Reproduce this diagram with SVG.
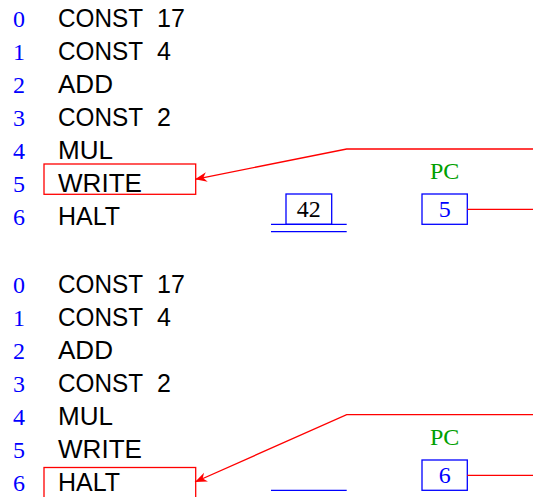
<svg xmlns="http://www.w3.org/2000/svg" width="533" height="497" viewBox="0 0 533 497">
<style>
.num{font-family:"Liberation Serif",serif;font-size:24px;fill:#0000ff}
.ins{font-family:"Liberation Sans",Arial,sans-serif;font-size:25px;fill:#000}
.red{fill:none;stroke:#ff0000;stroke-width:1.3}
.blue{fill:none;stroke:#0000ff;stroke-width:1.3}
.pc{font-family:"Liberation Serif",serif;font-size:24px;fill:#00a000;text-anchor:middle}
.val{font-family:"Liberation Serif",serif;font-size:24px;text-anchor:middle}
</style>
<defs>
<marker id="ah" viewBox="0 0 10 10" refX="10" refY="5" markerWidth="12" markerHeight="12" markerUnits="userSpaceOnUse" orient="auto">
<path d="M0,1 L10,5 L0,9 L3,5 z" fill="#ff0000"/>
</marker>
<g id="prog">
<text class="num" x="13" y="27">0</text>
<text class="num" x="13" y="60">1</text>
<text class="num" x="13" y="93">2</text>
<text class="num" x="13" y="126">3</text>
<text class="num" x="13" y="159">4</text>
<text class="num" x="13" y="192">5</text>
<text class="num" x="13" y="225">6</text>
<text class="ins" x="58" y="27"><tspan textLength="85" lengthAdjust="spacingAndGlyphs">CONST</tspan><tspan x="157">17</tspan></text>
<text class="ins" x="58" y="60"><tspan textLength="85" lengthAdjust="spacingAndGlyphs">CONST</tspan><tspan x="157">4</tspan></text>
<text class="ins" x="58" y="93" textLength="55" lengthAdjust="spacingAndGlyphs">ADD</text>
<text class="ins" x="58" y="126"><tspan textLength="85" lengthAdjust="spacingAndGlyphs">CONST</tspan><tspan x="157">2</tspan></text>
<text class="ins" x="58" y="159" textLength="55" lengthAdjust="spacingAndGlyphs">MUL</text>
<text class="ins" x="58" y="192" textLength="84" lengthAdjust="spacingAndGlyphs">WRITE</text>
<text class="ins" x="58" y="225" textLength="62" lengthAdjust="spacingAndGlyphs">HALT</text>
</g>
</defs>
<g id="state1">
<use id="program1" href="#prog"/>
<rect id="current1" class="red" x="44" y="164" width="151.7" height="30.3"/>
<g id="stack1">
<rect class="blue" x="286" y="194" width="45.7" height="30.3"/>
<text class="val" x="308.8" y="217" fill="#000">42</text>
<line class="blue" x1="271" y1="224.3" x2="346.7" y2="224.3"/>
<line class="blue" x1="271" y1="231.7" x2="346.7" y2="231.7"/>
</g>
<g id="pc1">
<text class="pc" x="444.7" y="179">PC</text>
<rect class="blue" x="422" y="194" width="45.3" height="30.3"/>
<text class="val" x="444.7" y="217" fill="#0000ff">5</text>
</g>
</g>
<g id="state2">
<use id="program2" href="#prog" y="266"/>
<rect id="current2" class="red" x="44" y="467.5" width="151.7" height="40"/>
<g id="stack2">
<line class="blue" x1="271" y1="490.3" x2="346.7" y2="490.3"/>
</g>
<g id="pc2">
<text class="pc" x="444.7" y="445">PC</text>
<rect class="blue" x="422" y="460" width="45.3" height="30.3"/>
<text class="val" x="444.7" y="483" fill="#0000ff">6</text>
</g>
</g>
<g id="connectors">
<line class="red" x1="467.3" y1="209.3" x2="533" y2="209.3"/>
<polyline class="red" points="533,149 346.7,149 195,179.3" marker-end="url(#ah)"/>
<line class="red" x1="467.3" y1="475.3" x2="533" y2="475.3"/>
<polyline class="red" points="533,414.7 346.7,414.7 195,482" marker-end="url(#ah)"/>
</g>
</svg>
